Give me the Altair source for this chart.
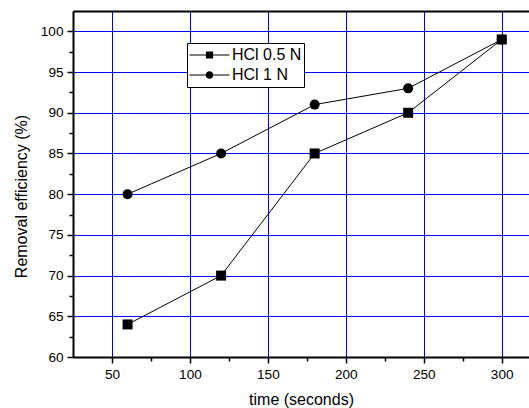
import altair as alt
import pandas as pd

times = [60, 120, 180, 240, 300]
hcl_05 = [64, 70, 85, 90, 99]
hcl_1 = [80, 85, 91, 93, 99]
series_names = ["HCl 0.5 N", "HCl 1 N"]
x_major = [50, 100, 150, 200, 250, 300]
x_minor = [75, 125, 175, 225, 275]
y_major = [60, 65, 70, 75, 80, 85, 90, 95, 100]
y_minor = [62.5, 67.5, 72.5, 77.5, 82.5, 87.5, 92.5, 97.5]

df = pd.DataFrame({
    "time": times + times,
    "eff": hcl_05 + hcl_1,
    "series": [series_names[0]] * len(times) + [series_names[1]] * len(times),
})

FONT = "Liberation Sans"
BLUE = "#0000ff"
xs = alt.Scale(domain=[25, 317.5], nice=False, zero=False)
ys = alt.Scale(domain=[60, 102.5], nice=False, zero=False)

base = alt.Chart(df)

lines = base.mark_line(color="black", strokeWidth=1).encode(
    x=alt.X("time:Q", scale=xs, axis=alt.Axis(
        orient="bottom", values=x_major, title="time (seconds)", grid=True,
        gridColor=BLUE, gridWidth=1, tickSize=6, labelPadding=4, titlePadding=10.4,
        format="d", titleFontWeight="normal")),
    y=alt.Y("eff:Q", scale=ys, axis=alt.Axis(
        orient="left", values=y_major, title="Removal efficiency (%)", grid=True,
        gridColor=BLUE, gridWidth=1, tickSize=6, labelPadding=4, titlePadding=11,
        format="d", titleY=185, titleFontWeight="normal")),
    detail="series:N",
)

minor = base.mark_point(opacity=0).encode(
    x=alt.X("time:Q", scale=xs, axis=alt.Axis(
        orient="bottom", values=x_minor, labels=False, domain=False, grid=False,
        tickSize=4, title=None)),
    y=alt.Y("eff:Q", scale=ys, axis=alt.Axis(
        orient="left", values=y_minor, labels=False, domain=False, grid=False,
        tickSize=4, title=None)),
)

top = base.mark_point(opacity=0).encode(
    x=alt.X("time:Q", scale=xs, axis=alt.Axis(
        orient="top", labels=False, ticks=False, grid=False, domain=True, title=None)),
    y=alt.Y("eff:Q", scale=ys, axis=None),
)

points = base.mark_point(filled=True, color="black", size=100, opacity=1).encode(
    x=alt.X("time:Q", scale=xs, axis=None),
    y=alt.Y("eff:Q", scale=ys, axis=None),
    shape=alt.Shape("series:N", scale=alt.Scale(domain=series_names, range=["square", "circle"]), legend=None),
)

# legend glyphs: thin line through marker, defined on the [-1, 1] symbol box
sq_path = ("M-1,-0.025H-0.18V0.025H-1Z M0.18,-0.025H1V0.025H0.18Z "
           "M-0.18,-0.18H0.18V0.18H-0.18Z")
ci_path = ("M-1,-0.025H-0.19V0.025H-1Z M0.19,-0.025H1V0.025H0.19Z "
           "M0.19,0A0.19,0.19 0 1,1 -0.19,0A0.19,0.19 0 1,1 0.19,0Z")

legend_layer = base.transform_filter("false").mark_point(
    filled=True, color="black", size=1600, opacity=1, strokeWidth=1
).encode(
    x=alt.X("time:Q", scale=xs, axis=None),
    y=alt.Y("eff:Q", scale=ys, axis=None),
    shape=alt.Shape("series:N", scale=alt.Scale(domain=series_names, range=[sq_path, ci_path]),
                    legend=alt.Legend(
                        title=None, orient="none", legendX=114, legendY=32,
                        labelFont=FONT, labelFontSize=16, labelColor="black",
                        padding=2, strokeColor="black", fillColor="white",
                        symbolStrokeColor="black", symbolFillColor="black",
                        symbolStrokeWidth=1, symbolSize=1600, labelOffset=2, rowPadding=0,
                        clipHeight=20, symbolOpacity=1)),
)

chart = alt.layer(lines, minor, top, points, legend_layer).resolve_axis(
    x="independent", y="independent"
).resolve_scale(shape="independent").properties(
    width=456, height=346,
    autosize=alt.AutoSizeParams(type="none"),
    padding={"left": 73, "top": 11, "right": 0, "bottom": 51},
).configure_view(stroke=None).configure_axis(
    labelFont=FONT, labelFontSize=13.6, labelColor="black",
    titleFont=FONT, titleFontSize=16, titleFontWeight="normal", titleColor="black",
    domainColor="black", domainWidth=2, tickColor="black", tickWidth=1.5,
).configure_legend(strokeWidth=1)

chart.save("out.html", embed_options={"renderer": "svg", "actions": False})
